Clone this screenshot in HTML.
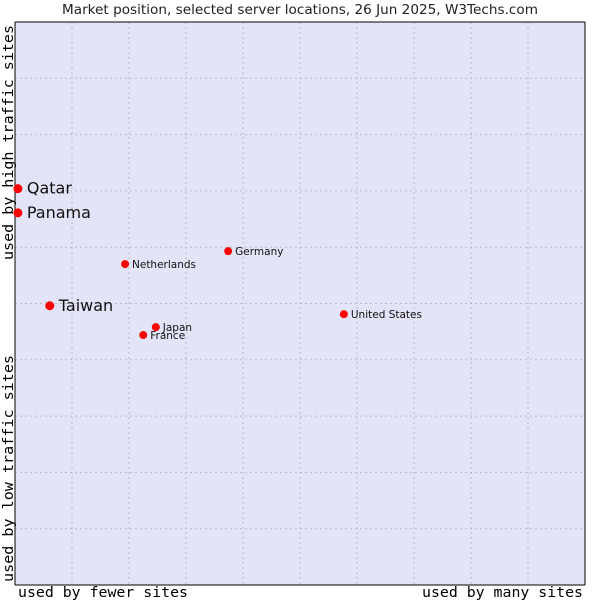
<!DOCTYPE html>
<html><head><meta charset="utf-8"><style>
body{margin:0;background:#fff;width:600px;height:600px;overflow:hidden}
svg text{font-family:"DejaVu Sans","Liberation Sans",sans-serif}
</style></head><body>
<svg id="chart" width="600" height="600">
<text x="62" y="14" textLength="476" lengthAdjust="spacingAndGlyphs" font-size="13" fill="#222">Market position, selected server locations, 26 Jun 2025, W3Techs.com</text>
<rect x="15" y="22" width="570" height="563" fill="#e4e4f8" stroke="none"/>
<g id="grid"></g>
<line x1="15" y1="22" x2="585" y2="22" stroke="#000"/>
<line x1="15" y1="22" x2="15" y2="585" stroke="#000"/>
<line x1="585" y1="22" x2="585" y2="585" stroke="#000"/>
<line x1="15" y1="585" x2="585" y2="585" stroke="#000"/>
<g id="points"></g>
<text x="18" y="597" textLength="170" lengthAdjust="spacingAndGlyphs" font-size="14" style="font-family:'DejaVu Sans Mono','Liberation Mono',monospace">used by fewer sites</text>
<text x="422" y="597" textLength="161" lengthAdjust="spacingAndGlyphs" font-size="14" style="font-family:'DejaVu Sans Mono','Liberation Mono',monospace">used by many sites</text>
<text transform="translate(13,260) rotate(-90)" textLength="235" lengthAdjust="spacingAndGlyphs" font-size="14" style="font-family:'DejaVu Sans Mono','Liberation Mono',monospace">used by high traffic sites</text>
<text transform="translate(13,582) rotate(-90)" textLength="227" lengthAdjust="spacingAndGlyphs" font-size="14" style="font-family:'DejaVu Sans Mono','Liberation Mono',monospace">used by low traffic sites</text>
</svg>
<script>
const names=["Qatar","Panama","Taiwan","Netherlands","Germany","Japan","France","United States"];
const xVals=[0.5,0.5,6.1,19.3,37.4,24.7,22.5,57.7];
const yVals=[70.4,66.1,49.6,57.0,59.3,45.8,44.4,48.1];
const big=[true,true,true,false,false,false,false,false];
const L=15,R=585,T=22,B=585;
const sx=v=>L+v/100*(R-L), sy=v=>B-v/100*(B-T);
const ns="http://www.w3.org/2000/svg";
const g=document.getElementById('grid');
for(let i=1;i<10;i++){
  const v=document.createElementNS(ns,'line');
  
  
  v.setAttribute('x1',sx(i*10));v.setAttribute('x2',sx(i*10));v.setAttribute('y1',T);v.setAttribute('y2',B);
  v.setAttribute('stroke','#bbb');v.setAttribute('stroke-dasharray','2,3');g.appendChild(v);
  const h=document.createElementNS(ns,'line');
  
  
  h.setAttribute('y1',sy(i*10));h.setAttribute('y2',sy(i*10));h.setAttribute('x1',L);h.setAttribute('x2',R);
  h.setAttribute('stroke','#bbb');h.setAttribute('stroke-dasharray','2,3');g.appendChild(h);
}
const p=document.getElementById('points');
names.forEach((n,i)=>{
  const x=sx(xVals[i]),y=sy(yVals[i]);
  const c=document.createElementNS(ns,'circle');
  
  
  c.setAttribute('cx',x);c.setAttribute('cy',y);c.setAttribute('r',big[i]?4.5:4);c.setAttribute('fill','#f00');
  p.appendChild(c);
  const t=document.createElementNS(ns,'text');
  
  
  t.setAttribute('x',x+(big[i]?9:7));t.setAttribute('y',y+(big[i]?5:4));
  t.setAttribute('font-size',big[i]?16:10.5);t.setAttribute('fill','#111');
  t.textContent=n;p.appendChild(t);
});
</script>
</body></html>
